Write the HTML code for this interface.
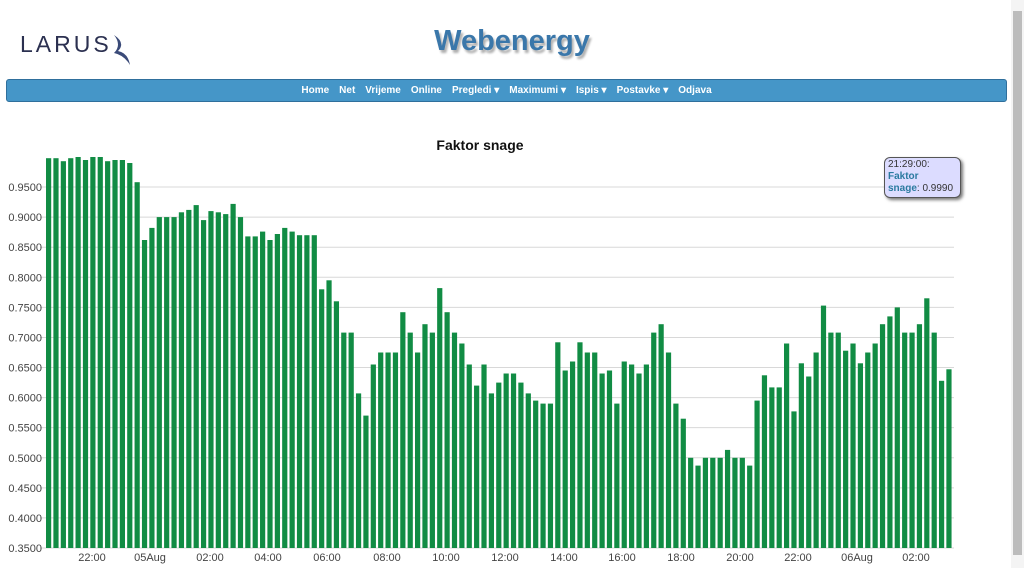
<!DOCTYPE html>
<html><head><meta charset="utf-8"><style>
html,body{margin:0;padding:0;width:1024px;height:568px;overflow:hidden;background:#fff;font-family:"Liberation Sans",sans-serif;}
#logo{position:absolute;left:20px;top:31px;font-size:23px;letter-spacing:3px;color:#2b3050;}
#title{position:absolute;left:0;width:1024px;top:25px;text-align:center;font-size:29px;font-weight:bold;color:#3a77aa;text-shadow:2px 3px 2px #b0b0b0;}
#nav{position:absolute;left:6px;top:79px;width:999px;height:21px;background:#4596c8;border:1px solid #2f6f9c;border-radius:3px;text-align:center;font-size:10px;font-weight:bold;color:#fff;line-height:21px;}
#nav span{margin:0 5px;}
#sb{position:absolute;left:1011px;top:0;width:13px;height:568px;background:#f4f4f4;}
#th{position:absolute;left:1013px;top:11px;width:9px;height:544px;background:#bcbcbc;}
#tip{position:absolute;left:884px;top:157px;width:72px;height:38px;background:#dcdcff;border:1px solid #555;border-radius:6px;box-shadow:2px 2px 3px #777;font-size:10px;line-height:12px;padding:1px 0 0 3px;color:#333;}
#tip b{color:#2a7aa0;}
</style></head><body>
<div id="logo">LARUS<svg width="22" height="34" style="position:absolute;left:92px;top:2px"><path d="M2 2 Q14 10 6 18 Q16 20 18 32 Q12 22 2 20 Q10 12 2 2Z" fill="#3a4a78"/></svg></div>
<div id="title">Webenergy</div>
<div id="nav"><span>Home</span><span>Net</span><span>Vrijeme</span><span>Online</span><span>Pregledi ▾</span><span>Maximumi ▾</span><span>Ispis ▾</span><span>Postavke ▾</span><span>Odjava</span></div>
<div id="sb"></div><div id="th"></div>
<svg id="ch" width="1010" height="568" style="position:absolute;left:0;top:0" font-family="Liberation Sans, sans-serif"></svg>
<div id="tip">21:29:00:<br><b>Faktor<br>snage</b>: 0.9990</div>
<script>
var v=[.998,.998,.993,.998,1,.995,1,1,.993,.995,.995,.99,.958,.862,.882,.9,.9,.9,.908,.912,.92,.895,.91,.908,.905,.922,.9,.868,.868,.876,.862,.872,.882,.876,.87,.87,.87,.78,.795,.76,.708,.708,.607,.57,
.655,.675,.675,.675,.742,.708,.675,.722,.708,.782,.742,.708,.69,.655,.62,.655,.607,.625,.64,.64,.625,.607,.595,.59,.59,.692,.645,.66,.692,.675,.675,.64,.645,.59,.66,.655,.64,.655,.708,.722,.675,.59,.565,.5,.487,.5,.5,.5,.513,.5,.5,.487,.595,.637,.617,.617,.69,.577,.657,.635,.675,.753,.708,.708,.678,.69,.657,.675,.69,.722,.735,.75,.708,.708,.722,.765,.708,.628,.647];
var s='',Y=function(x){return 548-(x-.35)/.05*30.08;};
for(var i=0;i<13;i++){var y=548-i*30.08;var lab=(0.35+i*0.05).toFixed(4);s+='<line x1="40" x2="954" y1="'+y+'" y2="'+y+'" stroke="#d8d8d8"/><text x="42" y="'+(y+4)+'" font-size="11" fill="#444" text-anchor="end">'+lab+'</text>';}
v.forEach(function(d,i){var x=46+i*7.38,y=Y(d);s+='<rect x="'+x.toFixed(2)+'" y="'+y.toFixed(1)+'" width="5.2" height="'+(548-y).toFixed(1)+'" fill="#118c44"/>';});
var L=[[92,'22:00'],[150,'05Aug'],[210,'02:00'],[268,'04:00'],[327,'06:00'],[387,'08:00'],[446,'10:00'],[505,'12:00'],[564,'14:00'],[622,'16:00'],[681,'18:00'],[740,'20:00'],[798,'22:00'],[857,'06Aug'],[916,'02:00']];
L.forEach(function(l){s+='<text x="'+l[0]+'" y="561" font-size="11" fill="#444" text-anchor="middle">'+l[1]+'</text>';});
s+='<text x="480" y="150" font-size="14" font-weight="bold" fill="#111" text-anchor="middle">Faktor snage</text>';
document.getElementById('ch').innerHTML=s;
</script>
</body></html>
